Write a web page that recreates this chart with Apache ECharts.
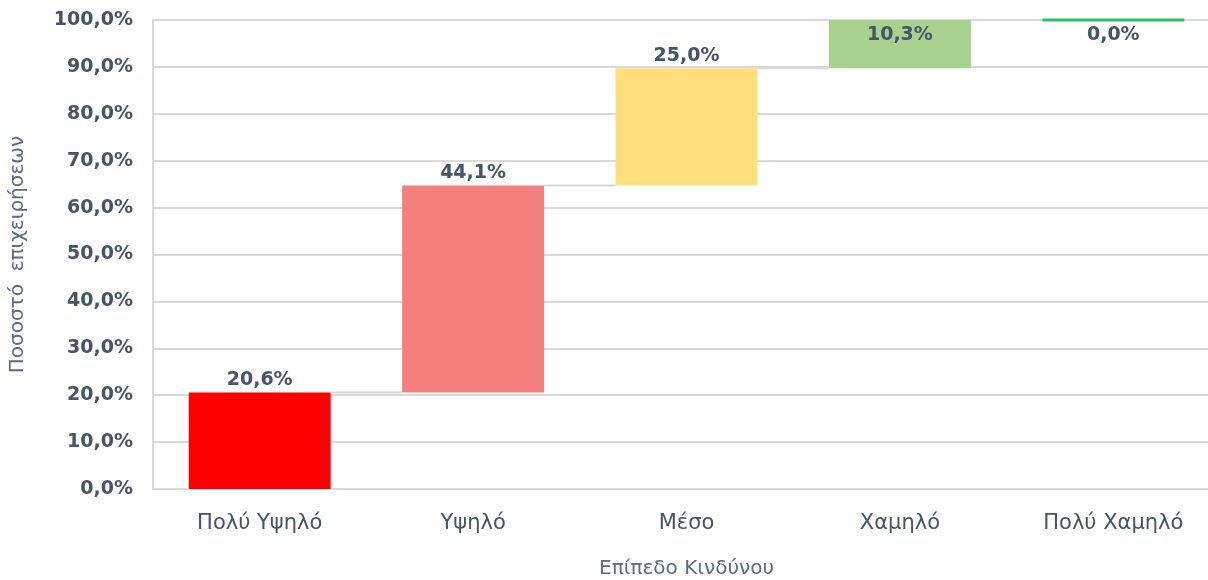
<!DOCTYPE html>
<html>
<head>
<meta charset="utf-8">
<script src="https://cdn.jsdelivr.net/npm/echarts@6/dist/echarts.min.js"></script>
<style>html,body{margin:0;padding:0;background:#fff;}#c{width:1208px;height:580px;}</style>
</head>
<body>
<div id="c"></div>
<script>
const categories = ['Πολύ Υψηλό', 'Υψηλό', 'Μέσο', 'Χαμηλό', 'Πολύ Χαμηλό'];
const values = [20.6, 44.1, 25.0, 10.3, 0.0];
const barColors = ['#ff0000', '#f47f7d', '#ffe07c', '#a9d18e', '#2fbf6a'];
const yTicks = [0, 10, 20, 30, 40, 50, 60, 70, 80, 90, 100];
const xTitle = 'Επίπεδο Κινδύνου';
const yTitle = 'Ποσοστό  επιχειρήσεων';

const bases = [];
let acc = 0;
values.forEach(v => { bases.push(acc); acc += v; });
const data = values.map((v, i) => [i, bases[i], v]);
const fmt = v => v.toFixed(1).replace('.', ',') + '%';

const chart = echarts.init(document.getElementById('c'), null, {renderer: 'canvas'});
const textColor = '#44546a';
chart.setOption({
  animation: false,
  grid: {left: 153, top: 20, width: 1067, bottom: 91, containLabel: false, outerBoundsMode: 'none'},
  xAxis: {
    type: 'category', data: categories, boundaryGap: true,
    axisLine: {show: true, lineStyle: {color: '#d9d9d9', width: 2}},
    axisTick: {show: false},
    axisLabel: {color: textColor, fontFamily: 'DejaVu Sans', fontSize: 21, margin: 24},
    name: xTitle, nameLocation: 'middle', nameGap: 70,
    nameTextStyle: {color: '#5b6b80', fontFamily: 'DejaVu Sans', fontSize: 20}
  },
  yAxis: {
    type: 'value', min: 0, max: 100, interval: 10,
    axisLine: {show: true, lineStyle: {color: '#d9d9d9', width: 2}},
    axisTick: {show: false},
    splitLine: {show: true, lineStyle: {color: '#d9d9d9', width: 2}},
    axisLabel: {color: textColor, fontFamily: 'DejaVu Sans', fontWeight: 'bold', fontSize: 19, margin: 20,
      formatter: v => yTicks.includes(v) ? fmt(v) : ''},
    name: yTitle, nameLocation: 'middle', nameGap: 125, nameRotate: 90,
    nameTextStyle: {color: '#5b6b80', fontFamily: 'DejaVu Sans', fontSize: 20}
  },
  series: [{
    type: 'custom',
    data: data,
    encode: {x: 0, y: [1, 2]},
    renderItem: function (params, api) {
      const i = api.value(0), base = api.value(1), val = api.value(2);
      const band = api.size([1, 0])[0];
      const bw = band * 0.665;
      const p0 = api.coord([i, base]);
      const p1 = api.coord([i, base + val]);
      const children = [];
      if (val > 0) {
        children.push({type: 'rect', shape: {x: p0[0] - bw / 2, y: p1[1], width: bw, height: p0[1] - p1[1]},
          style: {fill: barColors[i]}});
      } else {
        children.push({type: 'line', shape: {x1: p0[0] - bw / 2, y1: p1[1], x2: p0[0] + bw / 2, y2: p1[1]},
          style: {stroke: barColors[i], lineWidth: 3}});
      }
      if (i < values.length - 1) {
        children.push({type: 'line', shape: {x1: p0[0] + bw / 2, y1: p1[1], x2: p0[0] + band - bw / 2, y2: p1[1]},
          style: {stroke: '#d9d9d9', lineWidth: 2}});
      }
      const top = base + val;
      const inside = top >= 99.95;
      children.push({type: 'text', x: p0[0], y: inside ? p1[1] + 6 : p1[1] - 3,
        style: {text: fmt(val), fill: textColor, font: 'bold 19px "DejaVu Sans"',
          textAlign: 'center', textVerticalAlign: inside ? 'top' : 'bottom'}});
      return {type: 'group', children: children};
    }
  }]
});
</script>
</body>
</html>
